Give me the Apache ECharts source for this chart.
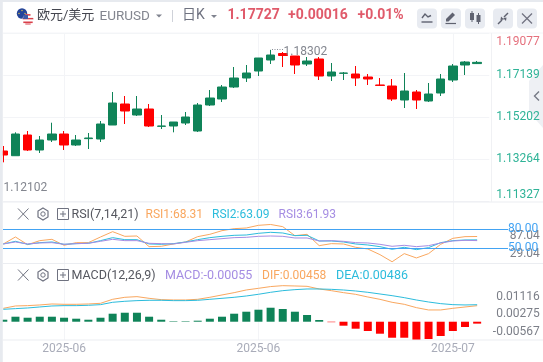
<!DOCTYPE html>
<html><head><meta charset="utf-8">
<style>html,body{margin:0;padding:0;background:#fff}#c{width:543px;height:362px}</style>
<script src="https://cdn.jsdelivr.net/npm/echarts@6/dist/echarts.min.js"></script>
</head><body><div id="c"></div>
<script>
// --- data ---
const timeLabels = ['','','','','','2025-06','','','','','','','','','','','','','','','','2025-06','','','','','','','','','','','','','','','','2025-07','','',''];
// open, close, low, high
const ohlc = [
[1.13649,1.13465,1.13129,1.13879],[1.13433,1.14431,1.13433,1.14509],[1.14385,1.13695,1.13649,1.14569],[1.13695,1.14155,1.13557,1.14339],
[1.14155,1.14431,1.14063,1.14951],[1.14431,1.13925,1.13695,1.14569],[1.13925,1.14155,1.13879,1.14385],[1.14219,1.14247,1.13741,1.14477],
[1.14201,1.14891,1.14063,1.15029],[1.14845,1.15857,1.14845,1.16363],[1.15811,1.15489,1.14891,1.16179],[1.15305,1.15581,1.15259,1.16179],
[1.15581,1.14799,1.14753,1.15811],[1.14785,1.14799,1.14661,1.15305],[1.14799,1.14983,1.14509,1.14983],[1.14937,1.15213,1.14845,1.15443],
[1.14569,1.15765,1.14523,1.15857],[1.15765,1.16087,1.15719,1.16455],[1.16041,1.16593,1.15903,1.16685],[1.16593,1.17007,1.16547,1.17513],
[1.17007,1.17237,1.16823,1.17605],[1.17329,1.17927,1.17099,1.17927],[1.17835,1.18065,1.17651,1.18302],[1.18134,1.18042,1.17513,1.18203],
[1.18019,1.17605,1.17191,1.18019],[1.17651,1.17789,1.17559,1.17973],[1.17881,1.17099,1.16915,1.17973],[1.17099,1.17283,1.16869,1.17697],
[1.17223,1.17237,1.16915,1.17283],[1.17191,1.17007,1.16639,1.17559],[1.17053,1.16961,1.16685,1.17191],[1.16685,1.16667,1.16639,1.17007],
[1.16639,1.16041,1.15949,1.16961],[1.15995,1.16409,1.15627,1.17237],[1.16363,1.15995,1.15581,1.16455],[1.15949,1.16271,1.15903,1.16777],
[1.16317,1.16961,1.16179,1.17191],[1.16915,1.17559,1.16823,1.17651],[1.17605,1.17743,1.17145,1.17789],[1.17670,1.17727,1.17650,1.17790]
];
const rsi1 = [56.69,67.57,55.66,61.87,63.94,54.62,58.76,58.76,67.57,75.86,68.61,69.12,52.55,53.07,56.69,59.8,68.09,71.71,77.41,80.52,81.56,85.7,87.04,83.63,69.64,71.71,54.1,57.21,56.69,51.51,48.92,40.12,29.04,41.67,34.94,41.67,56.17,65.5,68.09,68.31];
const rsi2 = [56.69,60.84,56.17,58.76,59.8,56.17,57.21,57.73,61.87,66.53,63.43,63.43,56.69,56.17,57.21,59.8,63.43,66.53,68.61,70.16,70.68,73.27,74.82,73.79,69.64,70.16,61.35,61.35,59.8,56.69,55.14,52.55,48.4,51.51,47.89,51,58.76,61.87,62.91,63.09];
const rsi3 = [56.69,59.8,56.69,58.25,58.76,56.17,57.21,57.73,60.84,63.94,61.87,61.87,57.73,57.21,56.69,59.28,61.87,63.43,64.98,66.53,67.05,68.61,69.12,68.61,66.02,66.02,61.35,61.87,60.84,58.76,58.25,56.17,53.07,54.62,52.55,54.1,58.25,61.35,62.39,61.93];
const macdBars = [.00057,.00143,.00114,.00143,.00143,.00114,.00086,.00057,.00114,.00229,.00257,.00257,.00143,.00057,.00014,.00014,.00029,.00086,.00143,.00229,.00286,.00343,.004,.00363,.00286,.00192,.00049,-.00014,-.00114,-.002,-.00266,-.00343,-.00458,-.00458,-.00523,-.00495,-.00409,-.00266,-.00152,-.00055];
const difValues = [.00383,.0045,.0046,.00479,.00507,.00498,.00498,.00507,.00526,.00641,.00698,.00717,.00669,.00631,.00622,.00622,.00641,.00698,.00765,.00831,.00908,.00955,.01005,.01031,.01022,.01012,.00936,.00888,.00831,.00783,.00707,.0064,.00555,.00498,.00402,.00336,.00336,.00383,.00421,.00458];
const deaValues = [.00355,.00374,.00393,.00422,.0045,.0046,.0046,.00469,.00488,.00555,.00584,.00603,.00612,.00612,.00603,.00603,.00612,.00641,.00669,.00698,.00736,.00784,.00841,.00888,.00917,.00936,.00936,.00926,.00907,.00879,.00841,.00793,.00745,.00688,.00621,.00564,.00517,.00488,.00479,.00486];
const priceTicks = [1.11327,1.13264,1.15202,1.17139,1.19077];
const rsiTicks = [29.04,58.04,87.04];
const rsiLevels = [80,50];
const macdTicks = [-0.00567,0.00275,0.01116];

const UP='#0f8358', DOWN='#ff0000', ORANGE='#f9a75f', CYAN='#2cbcdc', PURPLE='#a58de3', BLUE='#42a3f3';
const GRID='#f3f4f7', SEP='#ebedf1', ICON='#6f7280', FONT='Roboto, "Noto Sans CJK SC", sans-serif';
const L=3.3, W=486;
const isLabelled=(i)=>timeLabels[i]!=='';

const xBase=(gridIndex,showLabel)=>({type:'category',gridIndex,data:timeLabels,boundaryGap:false,
  axisLine:{show:false},axisTick:{show:false},
  axisLabel:{show:showLabel,interval:isLabelled,color:'#a9acb9',fontSize:12,fontFamily:FONT,margin:3},
  splitLine:{show:true,interval:isLabelled,lineStyle:{color:GRID,width:1}}});
const fix5=v=>v.toFixed(5), fix2=v=>v.toFixed(2);

const t=(text,x,y,fill,fontSize,weight)=>({type:'text',z:50,x,y,silent:true,style:{text,fill,font:`${weight?weight+' ':''}${fontSize}px ${FONT}`,verticalAlign:'middle'}});
const ln=(x1,y1,x2,y2,stroke,w)=>({type:'line',z:40,silent:true,shape:{x1,y1,x2,y2},style:{stroke,lineWidth:w||1}});
const btn=(x)=>({type:'rect',z:30,silent:true,shape:{x,y:8.5,width:20,height:20,r:4},style:{fill:'#e8ebf1'}});
const tri=(cx,cy)=>({type:'polygon',z:40,silent:true,shape:{points:[[cx-3,cy-1.5],[cx+3,cy-1.5],[cx,cy+1.5]]},style:{fill:'#80838f'}});
const rowIcons=(y)=>[
  ln(18,y-5.5,28.5,y+5.5,ICON,1), ln(28.5,y-5.5,18,y+5.5,ICON,1),
  {type:'polygon',z:40,silent:true,shape:{points:[[43,y-6],[48,y-3],[48,y+3],[43,y+6],[38,y+3],[38,y-3]]},style:{fill:'none',stroke:ICON,lineWidth:1.2}},
  {type:'circle',z:40,silent:true,shape:{cx:43,cy:y,r:2.2},style:{fill:'none',stroke:ICON,lineWidth:1}},
  {type:'rect',z:40,silent:true,shape:{x:57.5,y:y-5.5,width:11,height:11},style:{fill:'none',stroke:ICON,lineWidth:1}},
  ln(60,y,66,y,ICON,1), ln(63,y-3,63,y+3,ICON,1)
];
const usRows=[[-4.6,2.5,'#d9404a'],[-2.6,4.6,'#ffffff'],[-0.8,5.3,'#d9404a'],[1,5.3,'#ffffff'],[2.8,4.7,'#d9404a'],[4.5,2.7,'#e98a90']];
const leader=ln(272,49.5,283,49.5,'#8a8d96',1);
leader.style.lineDash=[1,1.5];
const chrome=[
  {type:'polygon',z:-1,silent:true,shape:{points:[[543,65],[529,81],[529,112],[543,128]]},style:{fill:'#eef0f4'}},
  {type:'polyline',z:40,silent:true,shape:{points:[[539,91.5],[534.5,96],[539,100.5]]},style:{fill:'none',stroke:'#767985',lineWidth:1.4}},
  // frame
  {type:'rect',z:60,silent:true,shape:{x:0,y:0,width:2.8,height:362},style:{fill:'#e7eaef'}},
  {type:'rect',z:60,silent:true,shape:{x:0,y:0,width:543,height:2},style:{fill:'#e7eaef'}},
  ln(3,33,543,33,'#f4f5f8'), ln(3,202,543,202,SEP), ln(3,263.5,543,263.5,SEP), ln(3,340,543,340,SEP),
  ln(491.5,33,491.5,202,'#f0f1f4'),
  // flags
  {type:'circle',z:40,silent:true,shape:{cx:22,cy:13.5,r:5.2},style:{fill:'#24449a'}},
  {type:'circle',z:41,silent:true,shape:{cx:22,cy:10.5,r:.7},style:{fill:'#e8c94a'}},
  {type:'circle',z:41,silent:true,shape:{cx:19,cy:13.5,r:.7},style:{fill:'#e8c94a'}},
  {type:'circle',z:41,silent:true,shape:{cx:25,cy:13.5,r:.7},style:{fill:'#e8c94a'}},
  {type:'circle',z:42,silent:true,shape:{cx:28,cy:19.5,r:5.5},style:{fill:'#ffffff'}},
  ...usRows.map(r=>ln(28-r[1],19.5+r[0],28+r[1],19.5+r[0],r[2],1.6)).map(o=>(o.z=43,o)),
  {type:'rect',z:44,silent:true,shape:{x:23.2,y:15,width:4.8,height:4},style:{fill:'#3d5aa8'}},
  // header
  t('欧元/美元',37,15.5,'#44464f',13),
  t('EURUSD',99.5,17,'#83868f',13.5),
  tri(159,16),
  ln(172.5,10,172.5,22,'#cfd2d9'),
  t('日K',182,15,'#6f7280',14),
  tri(214,16.5),
  t('1.17727',227.5,15.5,'#e05a6a',14,'bold'),
  t('+0.00016',288,15.5,'#e05a6a',14,'bold'),
  t('+0.01%',357.5,15.5,'#e05a6a',14,'bold'),
  btn(417),btn(441),btn(465),btn(493),btn(517),
  // line-chart icon
  {type:'polyline',z:40,silent:true,shape:{points:[[422,18],[425,14],[428,17],[431,15.5]]},style:{fill:'none',stroke:'#5f6270',lineWidth:1.4}},
  ln(421.5,22,432.5,22,'#5f6270',1.4),
  // pencil icon
  {type:'polygon',z:40,silent:true,shape:{points:[[446,19],[452.5,12.5],[455,15],[448.5,21.5],[446,21.5]]},style:{fill:'#5f6270'}},
  ln(445.5,23.5,456,23.5,'#5f6270',1.2),
  // candles icon
  {type:'rect',z:40,silent:true,shape:{x:470,y:13,width:4,height:7},style:{fill:'#5f6270'}},
  ln(472,11,472,22,'#5f6270',1),
  {type:'rect',z:40,silent:true,shape:{x:476.5,y:15,width:4,height:7},style:{fill:'#5f6270'}},
  ln(478.5,13,478.5,24,'#5f6270',1),
  // collapse icon
  ln(498,24,502,20,'#5f6270',1.4), ln(508,13,504,17,'#5f6270',1.4),
  {type:'polygon',z:40,silent:true,shape:{points:[[501,16.5],[504,19.5],[500.5,20]]},style:{fill:'#5f6270'}},
  {type:'polygon',z:40,silent:true,shape:{points:[[506,21],[503,18],[506.5,17.5]]},style:{fill:'#5f6270'}},
  // close icon
  ln(522,13.5,532,23.5,'#6f7280',1.2), ln(532,13.5,522,23.5,'#6f7280',1.2),
  // extrema labels
  t('1.18302',283.5,51.5,'#83868f',12),
  leader,
  t('1.12102',3.5,187.5,'#83868f',12),
  // RSI row
  ...rowIcons(214),
  t('RSI(7,14,21)',71.5,214.5,'#55575f',12.5),
  t('RSI1:68.31',145.5,214.5,ORANGE,12),
  t('RSI2:63.09',212,214.5,CYAN,12),
  t('RSI3:61.93',278.5,214.5,PURPLE,12),
  // MACD row
  ...rowIcons(275),
  t('MACD(12,26,9)',71.5,275.5,'#55575f',12.5),
  t('MACD:-0.00055',165,275.5,PURPLE,12.5),
  t('DIF:0.00458',262,275.5,ORANGE,12),
  t('DEA:0.00486',336,275.5,CYAN,12.5)
];

const rsiLine=(name,data,color)=>({name,type:'line',xAxisIndex:1,yAxisIndex:1,data,showSymbol:false,silent:true,lineStyle:{color,width:1}});
const chart=echarts.init(document.getElementById('c'),null,{renderer:'canvas'});
chart.setOption({
  animation:false,backgroundColor:'#ffffff',
  graphic:{elements:chrome},
  grid:[{left:L,top:33,width:W,height:168.5},{left:L,top:202,width:W,height:61},{left:L,top:263,width:W,height:77}],
  xAxis:[xBase(0,false),xBase(1,false),xBase(2,true)],
  yAxis:[
    {type:'value',gridIndex:0,position:'right',min:1.11327,max:1.19077,
     axisLine:{show:false},
     axisTick:{show:false,customValues:priceTicks},
     splitLine:{show:true,lineStyle:{color:GRID}},
     axisLabel:{customValues:priceTicks,formatter:fix5,align:'right',margin:50.5,fontSize:12,fontFamily:FONT,padding:[3,0,0,0],
       verticalAlignMinLabel:'bottom',verticalAlignMaxLabel:'top',showMinLabel:true,showMaxLabel:true,
       color:(v)=>v>1.19?'#e5707d':'#2fb397'}},
    {type:'value',gridIndex:1,position:'right',min:27.1,max:122,show:false},
    {type:'value',gridIndex:1,position:'right',min:2.1,max:195.4,
     axisLine:{show:false},axisTick:{show:false,customValues:rsiTicks},splitLine:{show:false},
     axisLabel:{customValues:rsiTicks,formatter:fix2,align:'right',margin:50.5,fontSize:12,fontFamily:FONT,color:'#7c7f88',showMinLabel:true,showMaxLabel:true,hideOverlap:false}},
    {type:'value',gridIndex:2,position:'right',min:-0.00523,max:0.01679,show:false},
    {type:'value',gridIndex:2,position:'right',min:-0.00973,max:0.02793,
     axisLine:{show:false},axisTick:{show:false,customValues:macdTicks},splitLine:{show:false},
     axisLabel:{customValues:macdTicks,formatter:fix5,align:'right',margin:50.5,fontSize:12,fontFamily:FONT,color:'#7c7f88',showMinLabel:true,showMaxLabel:true}}
  ],
  series:[
    {name:'K',type:'candlestick',xAxisIndex:0,yAxisIndex:0,data:ohlc,barWidth:9,silent:true,
     itemStyle:{color:UP,color0:DOWN,borderColor:UP,borderColor0:DOWN,borderWidth:1}},
    Object.assign(rsiLine('RSI1',rsi1,ORANGE),{
      markLine:{silent:true,symbol:'none',animation:false,
        lineStyle:{color:BLUE,width:1,type:'solid'},
        label:{show:true,position:'end',distance:0,color:BLUE,fontSize:12,fontFamily:FONT,formatter:'{b}'},
        data:rsiLevels.map(v=>[{name:v.toFixed(2),x:3,yAxis:v},{x:508,yAxis:v}])}}),
    rsiLine('RSI2',rsi2,CYAN),
    rsiLine('RSI3',rsi3,PURPLE),
    {name:'MACD',type:'bar',xAxisIndex:2,yAxisIndex:3,data:macdBars,barWidth:8,silent:true,
     itemStyle:{color:p=>p.value>=0?UP:DOWN}},
    {name:'DIF',type:'line',xAxisIndex:2,yAxisIndex:3,data:difValues,showSymbol:false,silent:true,lineStyle:{color:ORANGE,width:1}},
    {name:'DEA',type:'line',xAxisIndex:2,yAxisIndex:3,data:deaValues,showSymbol:false,silent:true,lineStyle:{color:CYAN,width:1}}
  ]
});
</script></body></html>
